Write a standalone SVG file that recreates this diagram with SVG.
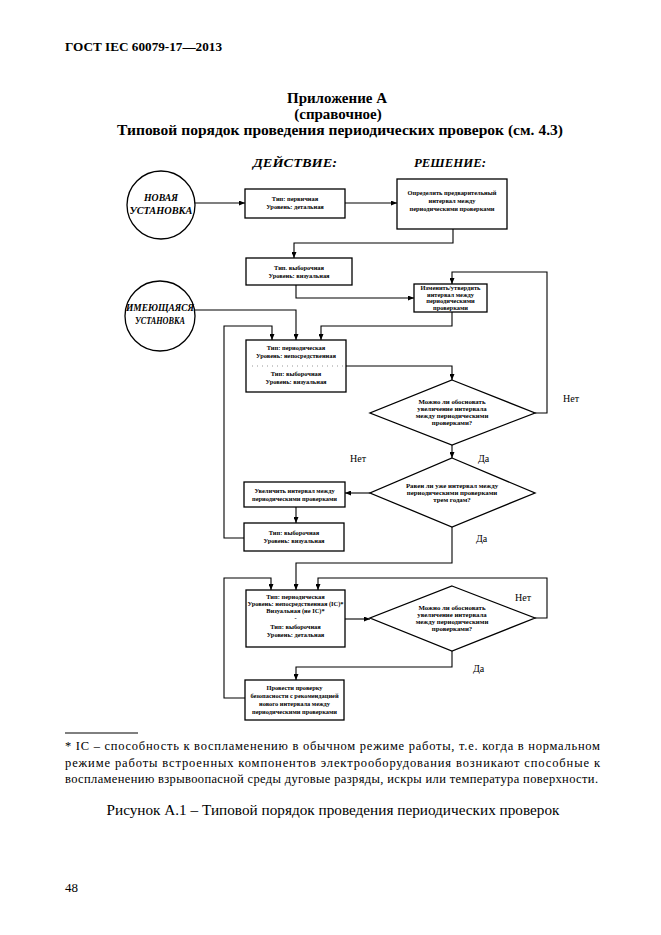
<svg xmlns="http://www.w3.org/2000/svg" width="661" height="935" viewBox="0 0 661 935">
<defs>
<marker id="ah" markerWidth="6" markerHeight="5" refX="6" refY="2.5" orient="auto" markerUnits="userSpaceOnUse">
<path d="M0,0 L6,2.5 L0,5 Z" fill="#000"/>
</marker>
<style>
text{font-family:"Liberation Serif","Times New Roman",serif;fill:#000}
.hd{font-weight:bold}
.ti{font-weight:bold;font-size:15px}
.col{font-weight:bold;font-style:italic;font-size:13px}
.cir{font-weight:bold;font-style:italic;font-size:10px}
.bx{font-weight:bold;font-size:6.4px}
.dm{font-weight:bold;font-size:6.8px}
.lb{font-size:10px}
.fn{font-size:12.5px}
.box{fill:#fff;stroke:#000;stroke-width:1.3}
.c{fill:none;stroke:#000;stroke-width:1.1}
.ca{fill:none;stroke:#000;stroke-width:1.1;marker-end:url(#ah)}
</style>
</defs>
<rect width="661" height="935" fill="#fff"/>

<text class="hd" x="65" y="51" font-size="13" textLength="157" lengthAdjust="spacingAndGlyphs">ГОСТ IEC 60079-17—2013</text>
<text class="ti" x="337" y="103" text-anchor="middle">Приложение А</text>
<text class="ti" x="338" y="119" text-anchor="middle">(справочное)</text>
<text class="ti" x="340" y="135" text-anchor="middle" textLength="446" lengthAdjust="spacingAndGlyphs">Типовой порядок проведения периодических проверок (см. 4.3)</text>
<text class="col" x="295" y="167" text-anchor="middle" textLength="84" lengthAdjust="spacingAndGlyphs">ДЕЙСТВИЕ:</text>
<text class="col" x="450" y="167" text-anchor="middle" textLength="72" lengthAdjust="spacingAndGlyphs">РЕШЕНИЕ:</text>

<g id="connectors">
<path class="ca" d="M195,203 H245"/>
<path class="ca" d="M345,203 H397"/>
<path class="ca" d="M453,229 V243 H294 V258"/>
<path class="ca" d="M296,285 V298 H414"/>
<path class="ca" d="M535,413 H547 V272 H452 V284"/>
<path class="ca" d="M452,312 V326 H321 V340"/>
<path class="ca" d="M195,310 H296 V340"/>
<path class="ca" d="M244,538 H224 V326 H272 V340"/>
<path class="ca" d="M346,366 H452 V380"/>
<path class="ca" d="M452,445 V458"/>
<path class="ca" d="M370,493 H345"/>
<path class="ca" d="M296,507 V523"/>
<path class="ca" d="M452,527 V563 H296 V590"/>
<path class="ca" d="M345,619 H370"/>
<path class="ca" d="M535,618 H547 V578 H318 V590"/>
<path class="ca" d="M452,651 V667 H296 V680"/>
<path class="ca" d="M245,698 H224 V578 H271 V590"/>
</g>

<g id="new-install">
<circle cx="161" cy="205" r="34" fill="#fff" stroke="#000" stroke-width="1.3"/>
<text class="cir" x="161" y="201" text-anchor="middle" textLength="34" lengthAdjust="spacingAndGlyphs">НОВАЯ</text>
<text class="cir" x="161" y="214" text-anchor="middle" textLength="63" lengthAdjust="spacingAndGlyphs">УСТАНОВКА</text>
</g>

<g id="existing-install">
<circle cx="160" cy="316" r="35" fill="#fff" stroke="#000" stroke-width="1.3"/>
<text class="cir" x="160" y="311" text-anchor="middle" textLength="68" lengthAdjust="spacingAndGlyphs">ИМЕЮЩАЯСЯ</text>
<text class="cir" x="160" y="324" text-anchor="middle" textLength="50" lengthAdjust="spacingAndGlyphs">УСТАНОВКА</text>
</g>

<g id="box-a">
<rect class="box" x="245" y="189" width="100" height="29"/>
<text class="bx" x="295" y="201" text-anchor="middle">Тип: первичная</text>
<text class="bx" x="295" y="209" text-anchor="middle">Уровень: детальная</text>
</g>

<g id="box-b">
<rect class="box" x="397" y="179" width="110" height="50"/>
<text class="bx" x="452" y="195" text-anchor="middle">Определить предварительный</text>
<text class="bx" x="452" y="203" text-anchor="middle">интервал между</text>
<text class="bx" x="452" y="211" text-anchor="middle">периодическими проверками</text>
</g>

<g id="box-c">
<rect class="box" x="246" y="258" width="106" height="27"/>
<text class="bx" x="299" y="270" text-anchor="middle">Тип. выборочная</text>
<text class="bx" x="299" y="278" text-anchor="middle">Уровень: визуальная</text>
</g>

<g id="box-d">
<rect class="box" x="414" y="284" width="73" height="28"/>
<text class="bx" x="450.5" y="290" text-anchor="middle">Изменить/утвердить</text>
<text class="bx" x="450.5" y="296.5" text-anchor="middle">интервал между</text>
<text class="bx" x="450.5" y="303" text-anchor="middle">периодическими</text>
<text class="bx" x="450.5" y="309.5" text-anchor="middle">проверками</text>
</g>

<g id="box-e">
<rect class="box" x="246" y="340" width="100" height="52"/>
<text class="bx" x="296" y="350" text-anchor="middle">Тип: периодическая</text>
<text class="bx" x="296" y="358" text-anchor="middle">Уровень: непосредственная</text>
<line x1="252" y1="366" x2="346" y2="366" stroke="#555" stroke-width="0.6" stroke-dasharray="1,4"/>
<text class="bx" x="296" y="376" text-anchor="middle">Тип:  выборочная</text>
<text class="bx" x="296" y="384" text-anchor="middle">Уровень: визуальная</text>
</g>

<g id="diamond-1">
<polygon class="box" points="452,380 535,413 452,445 370,413"/>
<text class="dm" x="452" y="404" text-anchor="middle">Можно ли обосновать</text>
<text class="dm" x="452" y="411" text-anchor="middle">увеличение интервала</text>
<text class="dm" x="452" y="418" text-anchor="middle">между периодическими</text>
<text class="dm" x="452" y="425" text-anchor="middle">проверками?</text>
</g>
<text class="lb" x="563" y="402">Нет</text>
<text class="lb" x="350" y="462">Нет</text>
<text class="lb" x="478" y="462">Да</text>

<g id="diamond-2">
<polygon class="box" points="452,458 535,493 452,527 370,493"/>
<text class="dm" x="452" y="488" text-anchor="middle">Равен ли уже интервал между</text>
<text class="dm" x="452" y="495" text-anchor="middle">периодическими проверками</text>
<text class="dm" x="452" y="502" text-anchor="middle">трем годам?</text>
</g>
<text class="lb" x="476" y="542">Да</text>

<g id="box-f">
<rect class="box" x="244" y="482" width="101" height="25"/>
<text class="bx" x="294.5" y="493" text-anchor="middle">Увеличить интервал между</text>
<text class="bx" x="294.5" y="501" text-anchor="middle">периодическими проверками</text>
</g>

<g id="box-g">
<rect class="box" x="244" y="523" width="100" height="28"/>
<text class="bx" x="294" y="535" text-anchor="middle">Тип:  выборочная</text>
<text class="bx" x="294" y="543" text-anchor="middle">Уровень: визуальная</text>
</g>

<g id="box-h">
<rect class="box" x="246" y="590" width="99" height="57"/>
<text class="bx" x="295.5" y="599" text-anchor="middle">Тип: периодическая</text>
<text class="bx" x="295.5" y="606" text-anchor="middle">Уровень: непосредственная (IC)*</text>
<text class="bx" x="295.5" y="613" text-anchor="middle">Визуальная (не IC)*</text>
<text class="bx" x="295.5" y="620" text-anchor="middle">-</text>
<text class="bx" x="295.5" y="629" text-anchor="middle">Тип: выборочная</text>
<text class="bx" x="295.5" y="637" text-anchor="middle">Уровень: детальная</text>
</g>

<g id="diamond-3">
<polygon class="box" points="452,586 535,618 452,651 370,618"/>
<text class="dm" x="452" y="610" text-anchor="middle">Можно ли обосновать</text>
<text class="dm" x="452" y="617" text-anchor="middle">увеличение интервала</text>
<text class="dm" x="452" y="624" text-anchor="middle">между периодическими</text>
<text class="dm" x="452" y="631" text-anchor="middle">проверками?</text>
</g>
<text class="lb" x="515" y="601">Нет</text>
<text class="lb" x="473" y="672">Да</text>

<g id="box-i">
<rect class="box" x="245" y="680" width="99" height="40"/>
<text class="bx" x="294.5" y="690" text-anchor="middle">Провести проверку</text>
<text class="bx" x="294.5" y="698" text-anchor="middle">безопасности с рекомендацией</text>
<text class="bx" x="294.5" y="706" text-anchor="middle">нового интервала между</text>
<text class="bx" x="294.5" y="714" text-anchor="middle">периодическими проверками</text>
</g>

<line x1="65" y1="733" x2="138" y2="733" stroke="#000" stroke-width="1"/>
<text class="fn" x="65" y="750" textLength="535" lengthAdjust="spacing">* IC – способность к воспламенению в обычном режиме работы, т.е. когда в нормальном</text>
<text class="fn" x="65" y="767" textLength="535" lengthAdjust="spacing">режиме работы встроенных компонентов электрооборудования возникают способные к</text>
<text class="fn" x="65" y="783" textLength="533" lengthAdjust="spacing">воспламенению взрывоопасной среды дуговые разряды, искры или температура поверхности.</text>
<text x="333" y="815" font-size="15" text-anchor="middle" textLength="453" lengthAdjust="spacingAndGlyphs">Рисунок А.1 – Типовой порядок проведения периодических проверок</text>
<text x="65" y="892" font-size="13">48</text>
</svg>
